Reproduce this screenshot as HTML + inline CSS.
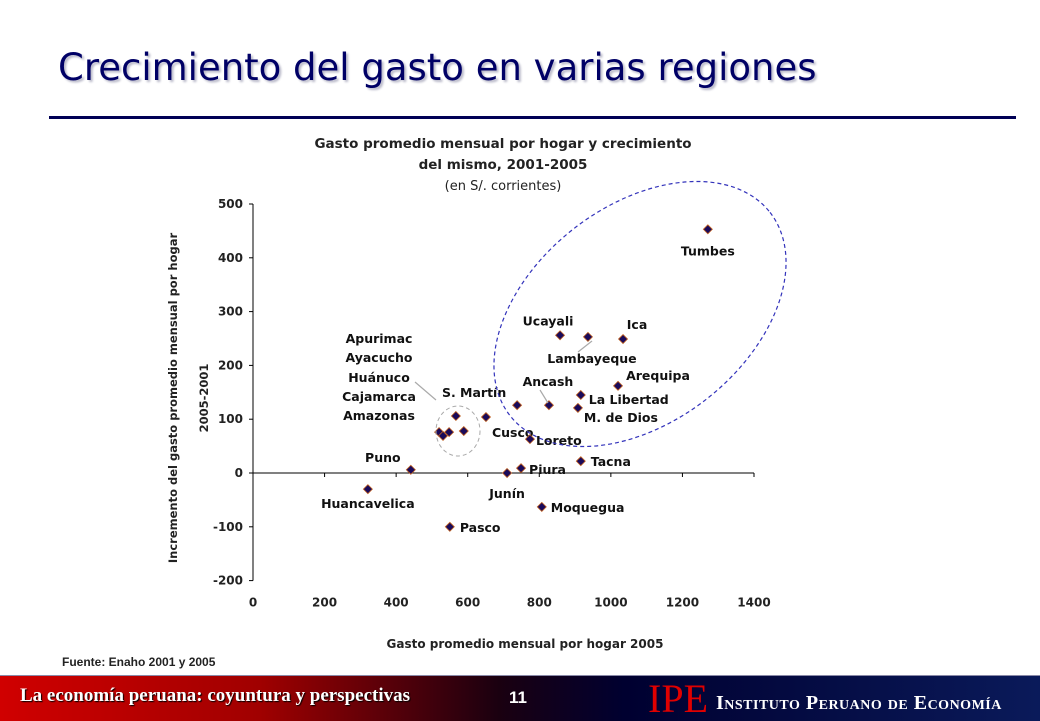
<!DOCTYPE html>
<html><head><meta charset="utf-8"><style>
body{margin:0;width:1040px;height:720px;background:#fff;overflow:hidden;position:relative;font-family:"Liberation Sans",Arial,sans-serif}
#title{position:absolute;left:58px;top:46px;font-family:"DejaVu Sans",sans-serif;font-size:37px;color:#000066;text-shadow:2px 2px 2px #b8b8c8;white-space:nowrap}
#rule{position:absolute;left:49px;top:116px;width:967px;height:3px;background:#000055}
#footer{position:absolute;left:0;top:675px;width:1040px;height:45px;background:linear-gradient(90deg,#d00000 0%,#a00000 25%,#1a0010 48%,#000030 60%,#0a1a5a 100%);border-top:1px solid #8a8aa8}
</style></head><body>
<div id="title">Crecimiento del gasto en varias regiones</div>
<div id="rule"></div>
<svg id="chart" width="1040" height="675" style="position:absolute;left:0;top:0" font-family="DejaVu Sans, sans-serif">
<text x="503" y="148" text-anchor="middle" font-size="13.5" font-weight="bold" fill="#222">Gasto promedio mensual por hogar y crecimiento</text>
<text x="503" y="169" text-anchor="middle" font-size="13.5" font-weight="bold" fill="#222">del mismo, 2001-2005</text>
<text x="503" y="190" text-anchor="middle" font-size="13" fill="#222">(en S/. corrientes)</text>
<g id="axes"></g><g id="marks"></g>
<text x="525" y="648" text-anchor="middle" font-size="12" font-weight="bold" fill="#222">Gasto promedio mensual por hogar 2005</text>
<text transform="translate(177,398) rotate(-90)" text-anchor="middle" font-size="11.5" font-weight="bold" fill="#222">Incremento del gasto promedio mensual por hogar</text>
<text transform="translate(208,398) rotate(-90)" text-anchor="middle" font-size="11.5" font-weight="bold" fill="#222">2005-2001</text>
<text x="62" y="666" font-size="12" font-weight="bold" fill="#222" font-family="Liberation Sans, Arial, sans-serif">Fuente: Enaho 2001 y 2005</text>
<ellipse cx="640" cy="314" rx="165" ry="108" transform="rotate(-38 640 314)" fill="none" stroke="#3333bb" stroke-width="1.2" stroke-dasharray="4,3"/>
<ellipse cx="458" cy="431" rx="22" ry="25" fill="none" stroke="#aaa" stroke-width="1" stroke-dasharray="4,3"/>
<g font-size="12.5" font-weight="bold" fill="#111" text-anchor="middle">
<text x="379" y="343">Apurimac</text><text x="379" y="362">Ayacucho</text><text x="379" y="382">Huánuco</text><text x="379" y="401">Cajamarca</text><text x="379" y="420">Amazonas</text></g>
<line x1="415" y1="382" x2="436" y2="400" stroke="#aaa" stroke-width="1.2"/>
<line x1="578" y1="352" x2="592" y2="341" stroke="#aaa" stroke-width="1.2"/>
<line x1="540" y1="390" x2="548" y2="403" stroke="#aaa" stroke-width="1.2"/>
</svg>
<div id="footer">
<div style="position:absolute;left:20px;top:9px;font-family:'Liberation Serif',serif;font-weight:bold;font-size:19px;color:#fff;text-shadow:1px 1px 1px #000;white-space:nowrap">La economía peruana: coyuntura y perspectivas</div>
<div style="position:absolute;left:509px;top:12px;font-weight:bold;font-size:17px;color:#fff">11</div>
<div style="position:absolute;left:648px;top:2px;font-family:'Liberation Serif',serif;font-size:40px;color:#e00000;line-height:42px">IPE</div>
<div style="position:absolute;left:716px;top:16px;font-family:'Liberation Serif',serif;font-variant:small-caps;font-weight:bold;font-size:20px;color:#fff;letter-spacing:0.5px;white-space:nowrap">Instituto Peruano de Economía</div>
</div>
<script>
const names=["Tumbes","Ucayali","Lambayeque","Ica","Arequipa","La Libertad","M. de Dios","Ancash","S. Martín","Cusco","Loreto","Tacna","Piura","Junín","Puno","Huancavelica","Pasco","Moquegua","Apurimac","Ayacucho","Huánuco","Cajamarca","Amazonas"];
const gasto=[1271,858,936,1034,1020,916,908,827,738,651,774,916,749,710,441,321,550,807,520,531,548,567,589];
const incremento=[453,256,253,249,162,145,121,126,126,104,63,22,9,0,6,-30,-100,-63,76,69,76,106,78];
const xTicks=[0,200,400,600,800,1000,1200,1400];
const yTicks=[-200,-100,0,100,200,300,400,500];
const labelPos=[[0,26,"middle"],[-12,-10,"middle"],[4,26,"middle"],[14,-10,"middle"],[40,-6,"middle"],[8,9,"start"],[6,14,"start"],[-1,-19,"middle"],[-43,-8,"middle"],[6,20,"start"],[6,6,"start"],[10,5,"start"],[8,6,"start"],[0,25,"middle"],[-28,-8,"middle"],[0,19,"middle"],[10,5,"start"],[9,5,"start"],null,null,null,null,null];
const X=v=>253+v*(501/1400), Y=v=>473-v*(269/500);
const ns="http://www.w3.org/2000/svg";
const ax=document.getElementById("axes"), mk=document.getElementById("marks");
function el(t,a,p){const e=document.createElementNS(ns,t);for(const k in a)e.setAttribute(k,a[k]);p.appendChild(e);return e;}
const yl=el("line",{x1:X(0),x2:X(0),y1:Y(500),y2:Y(-200),stroke:"#000"},ax);


const xl=el("line",{x1:X(0),x2:X(1400),y1:Y(0),y2:Y(0),stroke:"#000"},ax);


yTicks.forEach(v=>{el("line",{x1:X(0)-4,x2:X(0),y1:Y(v),y2:Y(v),stroke:"#000"},ax);
const t=el("text",{x:X(0)-10,y:Y(v)+4,"text-anchor":"end","font-size":12,"font-weight":"bold",fill:"#222"},ax);t.textContent=v;

});
xTicks.forEach(v=>{el("line",{x1:X(v),x2:X(v),y1:Y(0),y2:Y(0)+4,stroke:"#000"},ax);
const t=el("text",{x:X(v),y:Y(-200)+26,"text-anchor":"middle","font-size":12,"font-weight":"bold",fill:"#222"},ax);t.textContent=v;

});
names.forEach((n,i)=>{const x=X(gasto[i]),y=Y(incremento[i]);
const d=el("path",{d:`M${x} ${y-4.5}L${x+4.5} ${y}L${x} ${y+4.5}L${x-4.5} ${y}Z`,fill:"#1a0a5a",stroke:"#c06020","stroke-width":0.8},mk);


const lp=labelPos[i]; if(lp){const t=el("text",{x:x+lp[0],y:y+lp[1],"text-anchor":lp[2],"font-size":12.5,"font-weight":"bold",fill:"#111"},mk);t.textContent=n;

}});
</script>
</body></html>
